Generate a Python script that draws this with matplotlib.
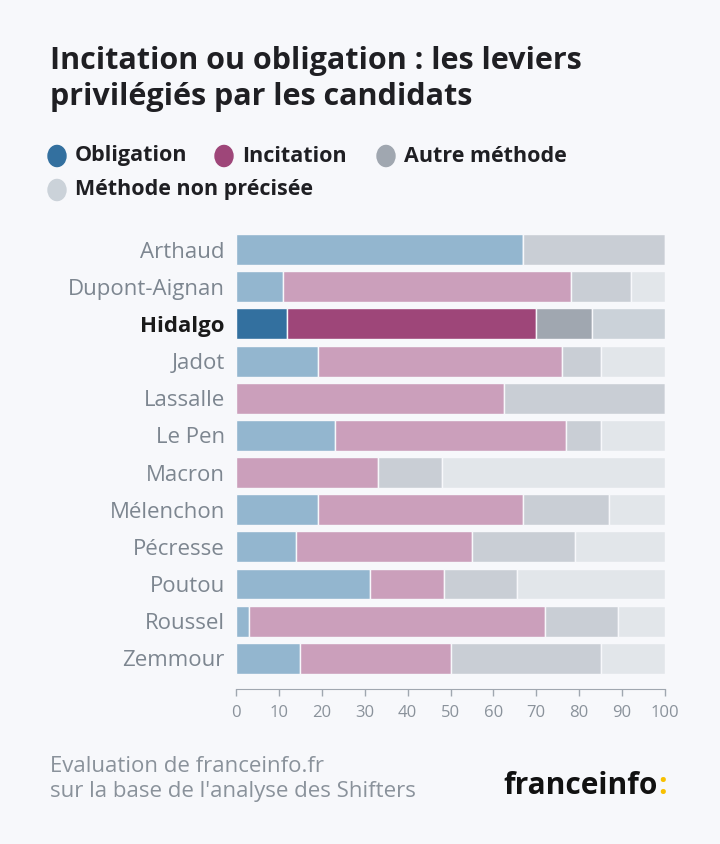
import matplotlib.pyplot as plt
import numpy as np

plt.rcParams['font.family'] = ['Open Sans', 'DejaVu Sans']

candidats = ['Arthaud', 'Dupont-Aignan', 'Hidalgo', 'Jadot', 'Lassalle', 'Le Pen',
             'Macron', 'Mélenchon', 'Pécresse', 'Poutou', 'Roussel', 'Zemmour']
obligation = [67, 11, 12, 19, 0, 23, 0, 19, 14, 31.3, 3, 15]
incitation = [0, 67, 58, 57, 62.5, 54, 33, 48, 41, 17.2, 69, 35]
autre = [33, 14, 13, 9, 37.5, 8, 15, 20, 24, 17.1, 17, 35]
non_precise = [0, 8, 17, 15, 0, 15, 52, 13, 21, 34.4, 11, 15]
focus = 'Hidalgo'

series = ['Obligation', 'Incitation', 'Autre méthode', 'Méthode non précisée']
vives = ['#33709f', '#9e4679', '#a0a7b0', '#cbd2d9']
pales = ['#93b6cf', '#cb9fbb', '#c9ced5', '#e2e6ea']
bg = '#f7f8fb'

fig = plt.figure(figsize=(7.2, 8.44), dpi=100, facecolor=bg)
ax = fig.add_axes([0.3278, 0.1979, 0.5958, 0.5284], facecolor=bg)

y = np.arange(len(candidats))
left = np.zeros(len(candidats))
for vals, cv, cp in zip([obligation, incitation, autre, non_precise], vives, pales):
    vals = np.array(vals, dtype=float)
    cols = [cv if c == focus else cp for c in candidats]
    ax.barh(y, vals, left=left, height=0.83, color=cols, edgecolor=bg, linewidth=1)
    left += vals

ax.set_xlim(0, 100)
ax.set_ylim(len(candidats) - 0.5, -0.5)
ax.set_yticks(y)
ax.set_yticklabels(candidats, fontsize=16, color='#7d8690')
for lab in ax.get_yticklabels():
    if lab.get_text() == focus:
        lab.set_color('#1a1a1a')
        lab.set_fontweight('bold')
ax.tick_params(axis='y', length=0, pad=8)
ax.set_xticks(range(0, 101, 10))
ax.tick_params(axis='x', colors='#a0a7b0', labelcolor='#8a929b', labelsize=12,
               length=5, width=1, pad=6)
for s in ['top', 'right', 'left']:
    ax.spines[s].set_visible(False)
ax.spines['bottom'].set_position(('outward', 9))
ax.spines['bottom'].set_color('#a0a7b0')

# titre
fig.text(50 / 720, 1 - 61 / 844, 'Incitation ou obligation : les leviers', fontsize=22,
         fontweight='bold', color='#1f1f23', va='center')
fig.text(50 / 720, 1 - 97 / 844, 'privilégiés par les candidats', fontsize=22,
         fontweight='bold', color='#1f1f23', va='center')

# légende
leg_pos = [(57, 156), (224, 156), (386, 156), (57, 190)]
for (px, py), name, c in zip(leg_pos, series, vives):
    fig.patches.append(plt.Circle((px / 720, 1 - py / 844), 9 / 720, color=c,
                                  transform=fig.transFigure, figure=fig))
    fig.text((px + 18) / 720, 1 - py / 844, name, fontsize=15.5, fontweight='bold',
             color='#1f1f23', va='center')

# source
fig.text(50 / 720, 1 - 766 / 844, 'Evaluation de franceinfo.fr', fontsize=16,
         color='#8a929b', va='center')
fig.text(50 / 720, 1 - 791 / 844, "sur la base de l'analyse des Shifters", fontsize=16,
         color='#8a929b', va='center')
logo = fig.text(503 / 720, 1 - 786 / 844, 'franceinfo', fontsize=21.5, fontweight='bold',
                color='#111111', va='center')
fig.canvas.draw()
bb = logo.get_window_extent()
fig.text(bb.x1 / 720 + 1 / 720, 1 - 786 / 844, ':', fontsize=21.5, fontweight='bold',
         color='#f8c000', va='center')

fig.savefig('out.png', dpi=100, facecolor=bg)
